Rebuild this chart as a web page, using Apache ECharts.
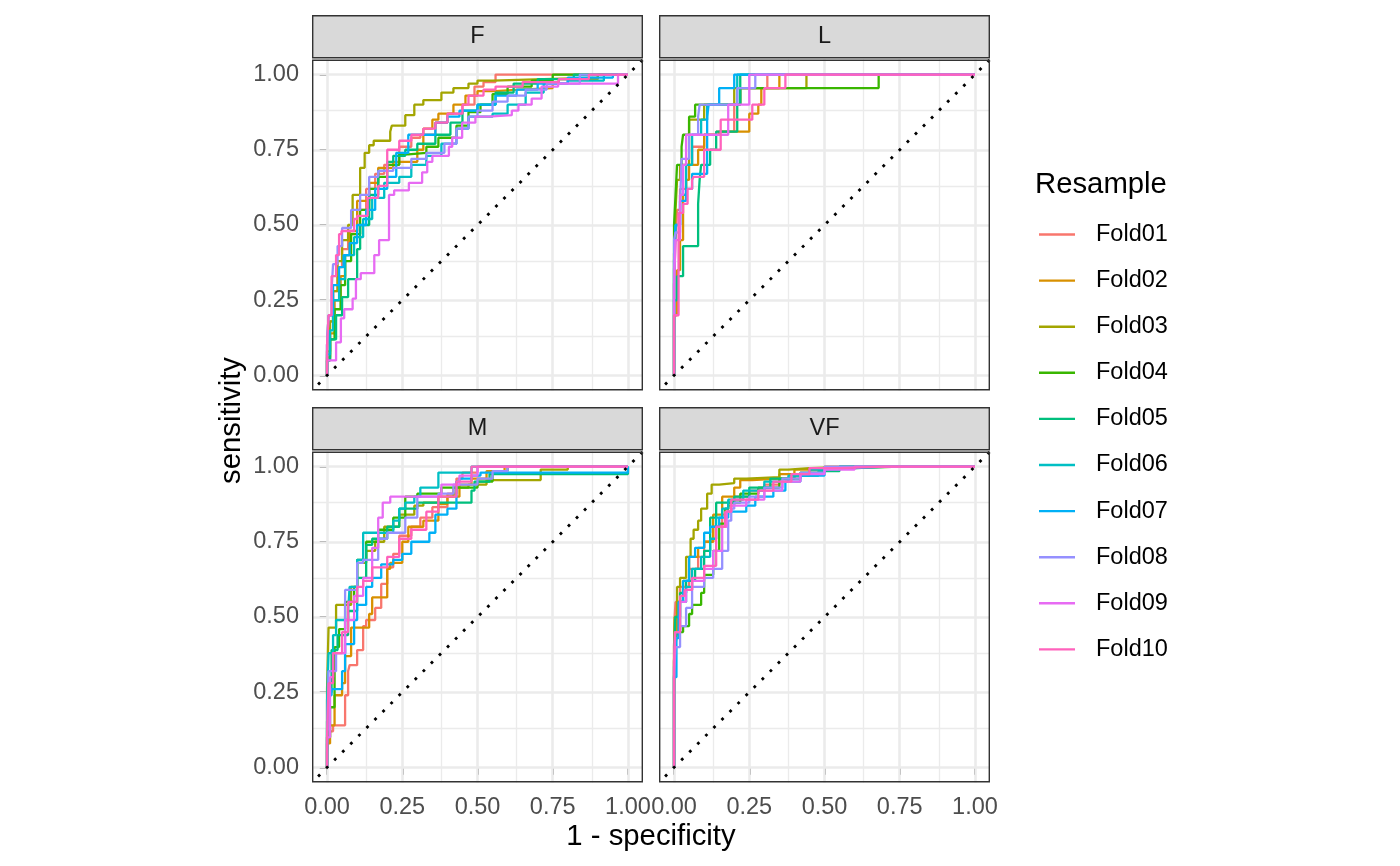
<!DOCTYPE html>
<html><head><meta charset="utf-8">
<script src="https://cdn.jsdelivr.net/npm/echarts@6/dist/echarts.min.js"></script>
<style>html,body{margin:0;padding:0;background:#fff}#c{width:1400px;height:866px}</style>
</head><body><div id="c"></div>
<script>
// ---------- data ----------
const panelNames = ['F', 'L', 'M', 'VF'];
const foldNames = ['Fold01','Fold02','Fold03','Fold04','Fold05','Fold06','Fold07','Fold08','Fold09','Fold10'];
const tickValues = [0, 0.25, 0.5, 0.75, 1];
const tickLabels = ['0.00', '0.25', '0.50', '0.75', '1.00'];
const minorValues = [0.125, 0.375, 0.625, 0.875];
const diagonal = [[-0.05, -0.05], [1.05, 1.05]];
const xTitle = '1 - specificity';
const yTitle = 'sensitivity';
const legendTitle = 'Resample';

// ROC points [1 - specificity, sensitivity] per fold, panel F
const rocF = [
 [[0,0],[0.005,0.08],[0.02,0.18],[0.035,0.28],[0.05,0.36],[0.07,0.42],[0.1,0.47],[0.13,0.55],[0.16,0.62],[0.19,0.67],[0.24,0.7],[0.28,0.76],[0.31,0.79],[0.36,0.8],[0.4,0.84],[0.45,0.87],[0.49,0.9],[0.52,0.96],[0.56,0.975],[0.62,1],[1,1]],
 [[0,0],[0.01,0.06],[0.025,0.14],[0.045,0.25],[0.06,0.33],[0.075,0.4],[0.1,0.48],[0.14,0.58],[0.17,0.64],[0.22,0.69],[0.26,0.71],[0.3,0.71],[0.32,0.75],[0.35,0.82],[0.37,0.85],[0.42,0.87],[0.46,0.9],[0.5,0.93],[0.56,0.945],[0.64,0.95],[0.75,0.955],[0.77,0.975],[0.9,0.985],[1,1]],
 [[0,0],[0.01,0.08],[0.02,0.18],[0.035,0.28],[0.05,0.38],[0.07,0.45],[0.085,0.5],[0.085,0.575],[0.11,0.6],[0.125,0.69],[0.14,0.74],[0.155,0.765],[0.21,0.78],[0.215,0.81],[0.26,0.83],[0.29,0.865],[0.32,0.9],[0.38,0.915],[0.42,0.94],[0.47,0.955],[0.5,0.97],[0.55,0.98],[0.72,0.985],[0.9,0.99],[1,1]],
 [[0,0],[0.01,0.05],[0.025,0.12],[0.045,0.22],[0.06,0.3],[0.08,0.38],[0.11,0.47],[0.14,0.55],[0.17,0.62],[0.2,0.66],[0.24,0.7],[0.27,0.735],[0.33,0.74],[0.37,0.76],[0.43,0.79],[0.47,0.83],[0.51,0.875],[0.55,0.9],[0.6,0.935],[0.68,0.96],[0.75,0.98],[0.89,1],[1,1]],
 [[0,0],[0.01,0.05],[0.03,0.12],[0.05,0.2],[0.07,0.26],[0.1,0.32],[0.11,0.42],[0.14,0.5],[0.17,0.6],[0.2,0.68],[0.22,0.71],[0.26,0.73],[0.3,0.75],[0.36,0.77],[0.41,0.8],[0.45,0.84],[0.5,0.88],[0.56,0.9],[0.62,0.94],[0.7,0.97],[0.82,0.985],[0.92,1],[1,1]],
 [[0,0],[0.01,0.07],[0.02,0.15],[0.04,0.25],[0.06,0.32],[0.09,0.4],[0.12,0.46],[0.15,0.52],[0.19,0.59],[0.24,0.64],[0.28,0.66],[0.33,0.7],[0.38,0.73],[0.43,0.77],[0.47,0.82],[0.55,0.86],[0.6,0.87],[0.66,0.9],[0.72,0.94],[0.8,0.97],[0.92,0.98],[1,1]],
 [[0,0],[0.005,0.1],[0.02,0.2],[0.04,0.3],[0.055,0.36],[0.075,0.4],[0.1,0.44],[0.13,0.5],[0.16,0.55],[0.2,0.62],[0.23,0.66],[0.27,0.74],[0.32,0.8],[0.36,0.8],[0.4,0.84],[0.44,0.86],[0.5,0.88],[0.56,0.9],[0.63,0.93],[0.7,0.95],[0.8,0.97],[0.95,0.99],[1,1]],
 [[0,0],[0.005,0.1],[0.015,0.2],[0.02,0.28],[0.035,0.37],[0.05,0.43],[0.08,0.49],[0.11,0.55],[0.14,0.6],[0.17,0.66],[0.22,0.68],[0.28,0.69],[0.33,0.72],[0.39,0.74],[0.43,0.77],[0.47,0.82],[0.5,0.86],[0.55,0.88],[0.6,0.91],[0.66,0.93],[0.73,0.95],[0.84,0.97],[0.95,1],[1,1]],
 [[0,0],[0.03,0.05],[0.046,0.11],[0.057,0.19],[0.085,0.22],[0.096,0.255],[0.112,0.32],[0.157,0.34],[0.173,0.4],[0.206,0.45],[0.223,0.6],[0.272,0.615],[0.316,0.64],[0.333,0.675],[0.35,0.71],[0.405,0.73],[0.416,0.76],[0.449,0.79],[0.493,0.84],[0.537,0.86],[0.614,0.865],[0.636,0.88],[0.68,0.9],[0.713,0.92],[0.768,0.96],[0.967,0.97],[1,1]],
 [[0,0],[0.005,0.1],[0.015,0.2],[0.03,0.33],[0.04,0.4],[0.048,0.47],[0.09,0.48],[0.1,0.52],[0.135,0.53],[0.17,0.59],[0.2,0.63],[0.24,0.75],[0.28,0.78],[0.32,0.8],[0.36,0.82],[0.4,0.84],[0.45,0.87],[0.47,0.9],[0.52,0.93],[0.56,0.95],[0.65,0.96],[0.77,0.975],[0.87,0.985],[0.95,1],[1,1]]
];

// panel L
const rocL = [
 [[0,0],[0.005,0.3],[0.01,0.45],[0.02,0.55],[0.04,0.62],[0.06,0.7],[0.1,0.76],[0.14,0.8],[0.2,0.81],[0.2,0.85],[0.22,0.9],[0.26,0.955],[0.31,0.955],[0.31,1],[1,1]],
 [[0,0],[0.01,0.2],[0.02,0.35],[0.03,0.45],[0.04,0.6],[0.05,0.65],[0.08,0.7],[0.1,0.75],[0.15,0.8],[0.25,0.81],[0.25,0.85],[0.28,0.87],[0.29,0.9],[0.32,0.955],[0.35,0.955],[0.35,1],[1,1]],
 [[0,0],[0.005,0.4],[0.01,0.55],[0.02,0.65],[0.05,0.7],[0.08,0.85],[0.1,0.85],[0.1,0.9],[0.2,0.9],[0.2,0.955],[0.44,0.955],[0.44,1],[1,1]],
 [[0,0],[0.005,0.5],[0.01,0.6],[0.025,0.7],[0.03,0.76],[0.05,0.8],[0.07,0.86],[0.13,0.9],[0.22,0.9],[0.22,0.955],[0.68,0.955],[0.68,1],[1,1]],
 [[0,0],[0.01,0.25],[0.03,0.33],[0.04,0.43],[0.08,0.43],[0.08,0.48],[0.085,0.57],[0.09,0.65],[0.12,0.7],[0.14,0.75],[0.16,0.81],[0.21,0.81],[0.22,0.9],[0.23,1],[1,1]],
 [[0,0],[0.005,0.35],[0.02,0.5],[0.04,0.6],[0.06,0.7],[0.09,0.8],[0.11,0.85],[0.13,0.9],[0.21,0.9],[0.21,1],[1,1]],
 [[0,0],[0.005,0.38],[0.02,0.5],[0.04,0.58],[0.06,0.62],[0.1,0.67],[0.11,0.67],[0.115,0.86],[0.15,0.9],[0.2,0.955],[0.2,1],[1,1]],
 [[0,0],[0.005,0.45],[0.02,0.475],[0.025,0.57],[0.05,0.72],[0.08,0.8],[0.085,0.86],[0.095,0.9],[0.21,0.9],[0.21,0.955],[0.27,0.955],[0.27,1],[1,1]],
 [[0,0],[0.005,0.3],[0.02,0.45],[0.03,0.6],[0.04,0.7],[0.055,0.8],[0.18,0.8],[0.18,0.9],[0.25,0.9],[0.25,1],[1,1]],
 [[0,0],[0.005,0.2],[0.015,0.2],[0.015,0.45],[0.03,0.54],[0.045,0.57],[0.06,0.62],[0.065,0.65],[0.1,0.66],[0.1,0.75],[0.155,0.75],[0.16,0.85],[0.26,0.85],[0.265,0.9],[0.3,0.9],[0.3,0.955],[0.37,0.955],[0.37,1],[1,1]]
];

// panel M
const rocM = [
 [[0,0],[0.005,0.05],[0.02,0.12],[0.06,0.14],[0.07,0.24],[0.075,0.32],[0.1,0.34],[0.12,0.39],[0.13,0.47],[0.16,0.49],[0.18,0.53],[0.2,0.61],[0.22,0.665],[0.24,0.71],[0.28,0.77],[0.31,0.8],[0.35,0.83],[0.4,0.865],[0.43,0.91],[0.45,0.96],[0.5,0.98],[0.55,1],[1,1]],
 [[0,0],[0.01,0.08],[0.025,0.14],[0.05,0.24],[0.06,0.28],[0.08,0.37],[0.1,0.465],[0.14,0.465],[0.15,0.51],[0.16,0.565],[0.2,0.565],[0.21,0.66],[0.25,0.68],[0.27,0.75],[0.32,0.8],[0.37,0.82],[0.4,0.875],[0.44,0.9],[0.48,0.94],[0.53,0.96],[0.59,0.985],[0.6,1],[1,1]],
 [[0,0],[0.005,0.26],[0.01,0.465],[0.03,0.465],[0.045,0.54],[0.08,0.54],[0.1,0.6],[0.13,0.68],[0.16,0.72],[0.19,0.75],[0.24,0.8],[0.29,0.84],[0.32,0.87],[0.37,0.88],[0.42,0.9],[0.47,0.93],[0.53,0.94],[0.6,0.955],[0.71,0.955],[0.71,0.98],[0.8,0.99],[1,1]],
 [[0,0],[0.01,0.1],[0.025,0.2],[0.04,0.4],[0.06,0.46],[0.09,0.55],[0.1,0.6],[0.13,0.69],[0.17,0.75],[0.22,0.79],[0.26,0.83],[0.3,0.9],[0.38,0.91],[0.5,0.93],[0.55,0.95],[0.6,0.985],[0.61,1],[1,1]],
 [[0,0],[0.005,0.15],[0.015,0.25],[0.035,0.39],[0.07,0.44],[0.1,0.52],[0.13,0.63],[0.15,0.74],[0.2,0.76],[0.24,0.8],[0.3,0.86],[0.33,0.88],[0.48,0.88],[0.49,0.92],[0.54,0.95],[0.6,0.975],[1,0.975],[1,1]],
 [[0,0],[0.005,0.22],[0.02,0.38],[0.03,0.44],[0.035,0.49],[0.07,0.49],[0.075,0.52],[0.1,0.6],[0.12,0.69],[0.15,0.78],[0.22,0.78],[0.24,0.82],[0.26,0.86],[0.29,0.88],[0.31,0.9],[0.37,0.93],[0.4,0.98],[0.48,0.98],[0.48,1],[1,1]],
 [[0,0],[0.005,0.12],[0.015,0.24],[0.05,0.26],[0.06,0.32],[0.09,0.41],[0.1,0.49],[0.13,0.54],[0.15,0.6],[0.18,0.63],[0.22,0.675],[0.25,0.69],[0.28,0.71],[0.34,0.75],[0.36,0.78],[0.4,0.84],[0.43,0.86],[0.44,0.95],[0.48,0.96],[0.51,0.97],[0.55,0.98],[1,0.98],[1,1]],
 [[0,0],[0.005,0.08],[0.03,0.32],[0.06,0.38],[0.1,0.59],[0.12,0.68],[0.17,0.69],[0.2,0.76],[0.26,0.78],[0.3,0.83],[0.37,0.9],[0.42,0.91],[0.5,0.94],[0.55,0.96],[0.6,0.985],[0.67,1],[1,1]],
 [[0,0],[0.01,0.1],[0.02,0.3],[0.06,0.38],[0.09,0.49],[0.12,0.57],[0.15,0.63],[0.17,0.73],[0.185,0.83],[0.21,0.88],[0.29,0.9],[0.38,0.9],[0.44,0.94],[0.5,0.97],[0.54,1],[1,1]],
 [[0,0],[0.005,0.1],[0.02,0.28],[0.05,0.38],[0.07,0.45],[0.1,0.55],[0.12,0.6],[0.15,0.62],[0.2,0.665],[0.24,0.7],[0.28,0.76],[0.33,0.79],[0.37,0.85],[0.43,0.9],[0.48,0.95],[0.54,1],[1,1]]
];

// panel VF
const rocVF = [
 [[0,0],[0.002,0.4],[0.005,0.5],[0.02,0.55],[0.05,0.6],[0.08,0.66],[0.1,0.7],[0.13,0.75],[0.16,0.8],[0.18,0.84],[0.2,0.87],[0.25,0.9],[0.3,0.92],[0.35,0.94],[0.4,0.96],[0.45,0.975],[0.55,0.99],[0.7,1],[1,1]],
 [[0,0],[0.002,0.35],[0.01,0.45],[0.03,0.55],[0.05,0.62],[0.08,0.7],[0.1,0.73],[0.13,0.75],[0.16,0.84],[0.2,0.9],[0.22,0.93],[0.26,0.955],[0.35,0.96],[0.4,0.975],[0.5,0.99],[0.65,1],[1,1]],
 [[0,0],[0.002,0.4],[0.01,0.5],[0.02,0.6],[0.04,0.63],[0.055,0.7],[0.065,0.76],[0.08,0.79],[0.09,0.82],[0.11,0.86],[0.125,0.91],[0.15,0.94],[0.2,0.945],[0.24,0.96],[0.35,0.965],[0.38,0.99],[0.45,0.995],[0.6,1],[1,1]],
 [[0,0],[0.004,0.3],[0.01,0.4],[0.03,0.45],[0.05,0.47],[0.06,0.51],[0.09,0.54],[0.1,0.58],[0.13,0.64],[0.15,0.72],[0.17,0.81],[0.18,0.86],[0.22,0.88],[0.28,0.91],[0.35,0.93],[0.42,0.96],[0.5,0.98],[0.6,0.995],[0.75,1],[1,1]],
 [[0,0],[0.004,0.35],[0.02,0.5],[0.04,0.58],[0.07,0.62],[0.1,0.66],[0.12,0.72],[0.14,0.83],[0.15,0.88],[0.2,0.88],[0.25,0.9],[0.32,0.93],[0.4,0.96],[0.48,0.97],[0.55,0.985],[0.7,1],[1,1]],
 [[0,0],[0.005,0.33],[0.02,0.45],[0.04,0.55],[0.06,0.6],[0.09,0.66],[0.12,0.7],[0.14,0.76],[0.16,0.83],[0.18,0.86],[0.23,0.89],[0.3,0.92],[0.38,0.95],[0.45,0.97],[0.55,0.99],[0.7,1],[1,1]],
 [[0,0],[0.008,0.3],[0.015,0.43],[0.03,0.55],[0.05,0.62],[0.07,0.7],[0.1,0.73],[0.12,0.78],[0.15,0.8],[0.18,0.83],[0.24,0.85],[0.27,0.87],[0.33,0.9],[0.37,0.92],[0.42,0.95],[0.5,0.97],[0.6,0.995],[0.72,1],[1,1]],
 [[0,0],[0.005,0.3],[0.02,0.4],[0.04,0.47],[0.06,0.53],[0.1,0.6],[0.13,0.63],[0.16,0.66],[0.18,0.72],[0.19,0.82],[0.2,0.86],[0.25,0.88],[0.3,0.9],[0.36,0.93],[0.42,0.96],[0.5,0.98],[0.6,1],[1,1]],
 [[0,0],[0.004,0.32],[0.02,0.45],[0.04,0.55],[0.06,0.59],[0.1,0.62],[0.13,0.66],[0.16,0.72],[0.175,0.8],[0.19,0.85],[0.24,0.87],[0.3,0.89],[0.36,0.92],[0.42,0.95],[0.5,0.975],[0.6,0.99],[0.75,1],[1,1]],
 [[0,0],[0.003,0.35],[0.02,0.45],[0.035,0.57],[0.06,0.59],[0.1,0.63],[0.14,0.67],[0.17,0.8],[0.19,0.85],[0.28,0.89],[0.33,0.92],[0.39,0.95],[0.45,0.975],[0.55,0.995],[0.7,1],[1,1]]
];
const rocByPanel = [rocF, rocL, rocM, rocVF];

// ---------- styles / layout ----------
const palette = ['#F8766D','#D89000','#A3A500','#39B600','#00BF7D','#00BFC4','#00B0F6','#9590FF','#E76BF3','#FF62BC'];
const FONT = '"Liberation Sans", Arial, Helvetica, sans-serif';
const PW = 331, PH = 331;
const layout = [
  {left: 312, top: 59.5, showX: false, showY: true},
  {left: 659, top: 59.5, showX: false, showY: false},
  {left: 312, top: 451.5, showX: true, showY: true},
  {left: 659, top: 451.5, showX: true, showY: false}
];
const labelFmt = v => { const i = tickValues.findIndex(t => Math.abs(t - v) < 1e-9); return i >= 0 ? tickLabels[i] : ''; };

const grids = [], xAxes = [], yAxes = [], series = [], graphics = [];
layout.forEach((L, p) => {
  grids.push({left: L.left, top: L.top, width: PW, height: PH, containLabel: false});
  const axisBase = (show) => ({
    type: 'value', gridIndex: p, min: -0.05, max: 1.05,
    axisLine: {show: false},
    splitLine: {show: false},
    axisTick: {show: show, customValues: tickValues, length: 7.3, lineStyle: {color: '#333333', width: 2}},
    axisLabel: {show: show, customValues: tickValues, formatter: labelFmt, margin: 13,
      color: '#4D4D4D', fontSize: 23.5, fontFamily: FONT}
  });
  xAxes.push(axisBase(L.showX));
  yAxes.push(axisBase(L.showY));

  // grid lines (under curves) attached to the diagonal reference series
  const ml = [];
  tickValues.forEach(v => { ml.push({xAxis: v, lineStyle: {width: 2.6}}); ml.push({yAxis: v, lineStyle: {width: 2.6}}); });
  minorValues.forEach(v => { ml.push({xAxis: v, lineStyle: {width: 1.3}}); ml.push({yAxis: v, lineStyle: {width: 1.3}}); });

  rocByPanel[p].forEach((pts, k) => {
    series.push({
      type: 'line', name: foldNames[k], xAxisIndex: p, yAxisIndex: p,
      data: pts, step: 'start', symbol: 'none', showSymbol: false,
      color: palette[k], lineStyle: {color: palette[k], width: 2.3},
      silent: true, animation: false, clip: true, z: 2
    });
  });
  series.push({
    type: 'line', name: 'diagonal', xAxisIndex: p, yAxisIndex: p,
    data: diagonal, symbol: 'none', silent: true, animation: false, clip: true, z: 3,
    lineStyle: {color: '#000000', width: 2.8, type: [2.8, 8.6], dashOffset: 2.8, cap: 'butt'},
    markLine: {silent: true, symbol: ['none', 'none'], animation: false, z: 1,
      label: {show: false}, emphasis: {disabled: true},
      lineStyle: {color: '#EBEBEB', type: 'solid'}, data: ml}
  });

  // panel border
  graphics.push({type: 'rect', z: 100, silent: true,
    shape: {x: L.left + 0.7, y: L.top + 0.7, width: PW - 1.4, height: PH - 1.4},
    style: {fill: 'none', stroke: '#333333', lineWidth: 1.4}});
  // strip
  graphics.push({type: 'rect', z: 100, silent: true,
    shape: {x: L.left + 0.7, y: L.top - 44.5 + 0.7, width: PW - 1.4, height: 43.5 - 1.4},
    style: {fill: '#D9D9D9', stroke: '#333333', lineWidth: 1.4}});
  graphics.push({type: 'text', z: 101, silent: true, x: L.left + PW / 2, y: L.top - 44.5 + 22,
    style: {text: panelNames[p], fill: '#1A1A1A', fontSize: 23.5, fontFamily: FONT, align: 'center', verticalAlign: 'middle'}});
});

// axis titles & legend title
graphics.push({type: 'text', silent: true, x: 651, y: 837,
  style: {text: xTitle, fill: '#000000', fontSize: 29.3, fontFamily: FONT, align: 'center', verticalAlign: 'middle'}});
graphics.push({type: 'text', silent: true, x: 232, y: 420.5, rotation: Math.PI / 2,
  style: {text: yTitle, fill: '#000000', fontSize: 29.3, fontFamily: FONT, align: 'center', verticalAlign: 'middle'}});
graphics.push({type: 'text', silent: true, x: 1035, y: 185,
  style: {text: legendTitle, fill: '#000000', fontSize: 29.3, fontFamily: FONT, align: 'left', verticalAlign: 'middle'}});

const chart = echarts.init(document.getElementById('c'), null, {renderer: 'canvas'});
chart.setOption({
  animation: false,
  backgroundColor: '#ffffff',
  grid: grids, xAxis: xAxes, yAxis: yAxes, series: series, graphic: graphics,
  legend: {
    data: foldNames, orient: 'vertical', left: 1039, top: 222.5, padding: 0,
    itemWidth: 36, itemHeight: 2.4, itemGap: 22.1, icon: 'rect', selectedMode: false,
    textStyle: {fontSize: 23.5, lineHeight: 24, color: '#000000', fontFamily: FONT, padding: [0, 0, 0, 16]}
  }
});
</script></body></html>
